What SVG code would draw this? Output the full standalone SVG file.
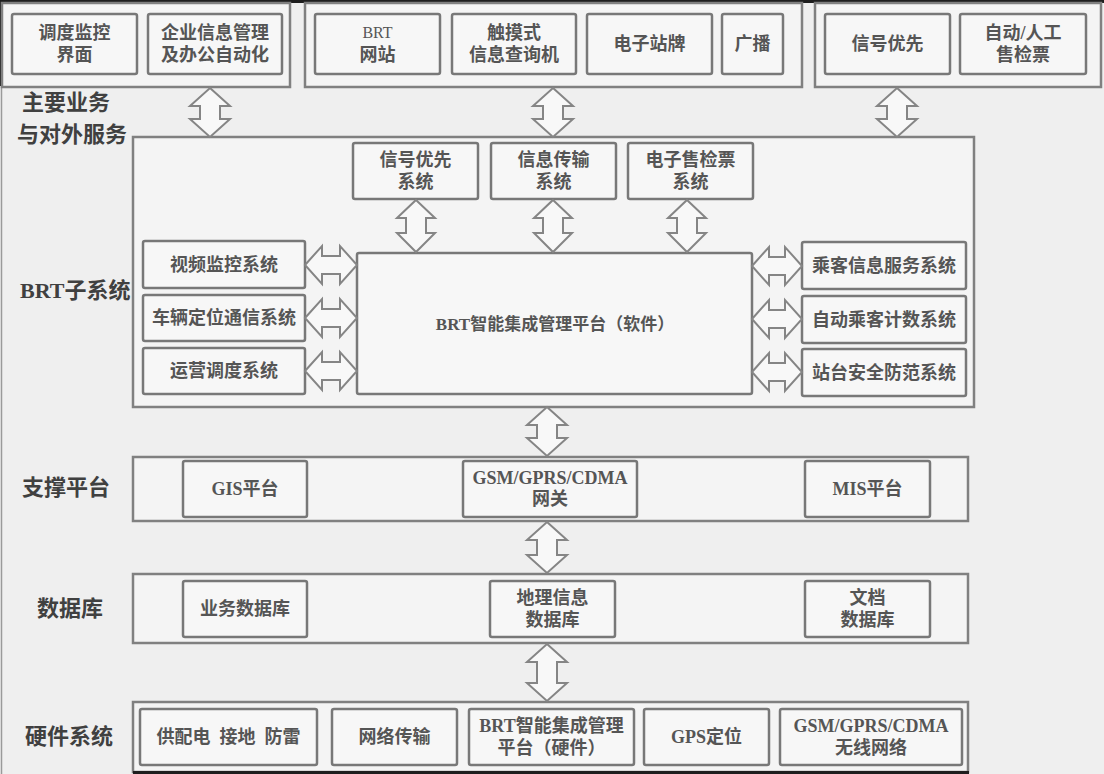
<svg xmlns="http://www.w3.org/2000/svg" width="1104" height="774" viewBox="0 0 1104 774">
<style>
.bg{fill:#efefef}
.panel{fill:#f4f4f4;stroke:#808080;stroke-width:2.5}
.box{fill:#f7f7f7;stroke:#787878;stroke-width:2.5}
.arr{fill:#f8f8f8;stroke:#858585;stroke-width:2;stroke-linejoin:miter}
.t{font-family:"Liberation Serif","Noto Sans CJK SC",serif;font-weight:700;font-size:18px;fill:#555555;text-anchor:middle;dominant-baseline:central}
.s{font-size:17px}
.lt{font-family:"Liberation Serif","Noto Sans CJK SC",serif;font-weight:400;font-size:16px;fill:#555555;text-anchor:middle;dominant-baseline:central}
.lbl{font-family:"Liberation Serif","Noto Sans CJK SC",serif;font-weight:700;font-size:22px;fill:#404040;dominant-baseline:central}
.edge{fill:#1e1e1e}
</style>
<rect class="bg" x="0" y="0" width="1104" height="774"/>
<rect class="edge" x="0" y="0" width="1104" height="3"/>
<rect class="edge" x="0" y="0" width="2" height="86"/>
<line x1="1.5" y1="86" x2="1.5" y2="774" stroke="#9a9a9a" stroke-width="1.5"/>

<!-- Row labels -->
<g id="labels">
<text class="lbl" x="22" y="102">主要业务</text>
<text class="lbl" x="17" y="134">与对外服务</text>
<text class="lbl" x="20" y="290">BRT子系统</text>
<text class="lbl" x="22" y="487">支撑平台</text>
<text class="lbl" x="37" y="608">数据库</text>
<text class="lbl" x="25" y="736">硬件系统</text>
</g>

<!-- Top panels -->
<g id="panel-a">
<rect class="panel" x="2" y="3" width="288" height="84"/>
<g id="n-ddjk"><rect class="box" x="12" y="14" width="125" height="60" rx="2"/><text class="t" x="74.5" y="33">调度监控</text><text class="t" x="74.5" y="55">界面</text></g>
<g id="n-qyxx"><rect class="box" x="148" y="14" width="134" height="60" rx="2"/><text class="t" x="215" y="33">企业信息管理</text><text class="t" x="215" y="55">及办公自动化</text></g>
</g>
<g id="panel-b">
<rect class="panel" x="305" y="3" width="497" height="84"/>
<g id="n-brtweb"><rect class="box" x="315" y="14" width="125" height="60" rx="2"/><text class="lt" x="377.5" y="32">BRT</text><text class="t" x="377.5" y="55">网站</text></g>
<g id="n-touch"><rect class="box" x="452" y="14" width="124" height="60" rx="2"/><text class="t" x="514" y="33">触摸式</text><text class="t" x="514" y="55">信息查询机</text></g>
<g id="n-stop"><rect class="box" x="587" y="14" width="125" height="60" rx="2"/><text class="t" x="649.5" y="44">电子站牌</text></g>
<g id="n-bc"><rect class="box" x="722" y="14" width="61" height="60" rx="2"/><text class="t" x="752.5" y="44">广播</text></g>
</g>
<g id="panel-c">
<rect class="panel" x="815" y="3" width="286" height="84"/>
<g id="n-sig"><rect class="box" x="825" y="14" width="125" height="60" rx="2"/><text class="t" x="887.5" y="44">信号优先</text></g>
<g id="n-ticket"><rect class="box" x="960" y="14" width="126" height="60" rx="2"/><text class="t" x="1023" y="33">自动/人工</text><text class="t" x="1023" y="55">售检票</text></g>
</g>

<!-- BRT subsystem -->
<g id="brt-sub">
<rect class="panel" x="133" y="137" width="841" height="270"/>
<g id="n-sigsys"><rect class="box" x="353" y="143" width="125" height="56" rx="2"/><text class="t" x="415.5" y="160">信号优先</text><text class="t" x="415.5" y="182">系统</text></g>
<g id="n-infotx"><rect class="box" x="491" y="143" width="125" height="56" rx="2"/><text class="t" x="553.5" y="160">信息传输</text><text class="t" x="553.5" y="182">系统</text></g>
<g id="n-eticket"><rect class="box" x="628" y="143" width="125" height="56" rx="2"/><text class="t" x="690.5" y="160">电子售检票</text><text class="t" x="690.5" y="182">系统</text></g>
<g id="n-platform"><rect class="box" x="357" y="253" width="395" height="141" rx="2"/><text class="t s" x="555" y="324">BRT智能集成管理平台（软件）</text></g>
<g id="n-video"><rect class="box" x="143" y="241" width="162" height="47" rx="2"/><text class="t" x="224" y="265">视频监控系统</text></g>
<g id="n-vehloc"><rect class="box" x="143" y="295" width="162" height="46" rx="2"/><text class="t" x="224" y="318">车辆定位通信系统</text></g>
<g id="n-dispatch"><rect class="box" x="143" y="348" width="162" height="46" rx="2"/><text class="t" x="224" y="371">运营调度系统</text></g>
<g id="n-pis"><rect class="box" x="802" y="242" width="164" height="47" rx="2"/><text class="t" x="884" y="266">乘客信息服务系统</text></g>
<g id="n-apc"><rect class="box" x="802" y="296" width="164" height="47" rx="2"/><text class="t" x="884" y="320">自动乘客计数系统</text></g>
<g id="n-sec"><rect class="box" x="802" y="349" width="164" height="47" rx="2"/><text class="t" x="884" y="373">站台安全防范系统</text></g>
</g>

<!-- Support platform -->
<g id="support">
<rect class="panel" x="133" y="457" width="835" height="64"/>
<g id="n-gis"><rect class="box" x="183" y="461" width="124" height="56" rx="2"/><text class="t" x="245" y="489">GIS平台</text></g>
<g id="n-gw"><rect class="box" x="463" y="461" width="174" height="56" rx="2"/><text class="t" x="550" y="478">GSM/GPRS/CDMA</text><text class="t" x="550" y="499">网关</text></g>
<g id="n-mis"><rect class="box" x="805" y="461" width="125" height="56" rx="2"/><text class="t" x="867.5" y="489">MIS平台</text></g>
</g>

<!-- Database -->
<g id="database">
<rect class="panel" x="133" y="574" width="835" height="69"/>
<g id="n-bizdb"><rect class="box" x="183" y="581" width="124" height="56" rx="2"/><text class="t" x="245" y="609">业务数据库</text></g>
<g id="n-geodb"><rect class="box" x="490" y="581" width="125" height="56" rx="2"/><text class="t" x="552.5" y="598">地理信息</text><text class="t" x="552.5" y="620">数据库</text></g>
<g id="n-docdb"><rect class="box" x="805" y="581" width="125" height="56" rx="2"/><text class="t" x="867.5" y="598">文档</text><text class="t" x="867.5" y="620">数据库</text></g>
</g>

<!-- Hardware -->
<g id="hardware">
<rect class="panel" x="133" y="702" width="835" height="70"/>
<g id="n-power"><rect class="box" x="140" y="709" width="177" height="56" rx="2"/><text class="t" x="228.5" y="737" xml:space="preserve">供配电  接地  防雷</text></g>
<g id="n-net"><rect class="box" x="332" y="709" width="125" height="56" rx="2"/><text class="t" x="394.5" y="737">网络传输</text></g>
<g id="n-hwplat"><rect class="box" x="469" y="709" width="165" height="56" rx="2"/><text class="t" x="551.5" y="726">BRT智能集成管理</text><text class="t" x="551.5" y="748">平台（硬件）</text></g>
<g id="n-gps"><rect class="box" x="644" y="709" width="125" height="56" rx="2"/><text class="t" x="706.5" y="737">GPS定位</text></g>
<g id="n-wireless"><rect class="box" x="780" y="709" width="182" height="56" rx="2"/><text class="t" x="871" y="726">GSM/GPRS/CDMA</text><text class="t" x="871" y="748">无线网络</text></g>
</g>
<rect class="edge" x="133" y="771" width="836" height="3"/>

<!-- Connectors: double arrows -->
<g id="connectors">
<polygon class="arr" points="210,88 230,106 220,106 220,119 230,119 210,137 190,119 200,119 200,106 190,106"/>
<polygon class="arr" points="553,88 573,106 563,106 563,119 573,119 553,137 533,119 543,119 543,106 533,106"/>
<polygon class="arr" points="897,88 917,106 907,106 907,119 917,119 897,137 877,119 887,119 887,106 877,106"/>

<polygon class="arr" points="416,200 435,218 426,218 426,233 435,233 416,252 397,233 406,233 406,218 397,218"/>
<polygon class="arr" points="553,200 572,218 563,218 563,233 572,233 553,252 534,233 543,233 543,218 534,218"/>
<polygon class="arr" points="687,200 706,218 697,218 697,233 706,233 687,252 668,233 677,233 677,218 668,218"/>

<polygon class="arr" points="305,265 322,246 322,256 340,256 340,246 357,265 340,284 340,274 322,274 322,284"/>
<polygon class="arr" points="305,318 322,299 322,309 340,309 340,299 357,318 340,337 340,327 322,327 322,337"/>
<polygon class="arr" points="305,371 322,352 322,362 340,362 340,352 357,371 340,390 340,380 322,380 322,390"/>

<polygon class="arr" points="752,266 769,247 769,257 785,257 785,247 802,266 785,285 785,275 769,275 769,285"/>
<polygon class="arr" points="752,319 769,300 769,310 785,310 785,300 802,319 785,338 785,328 769,328 769,338"/>
<polygon class="arr" points="752,372 769,353 769,363 785,363 785,353 802,372 785,391 785,381 769,381 769,391"/>

<polygon class="arr" points="547,407 567,425 557,425 557,438 567,438 547,456 527,438 537,438 537,425 527,425"/>
<polygon class="arr" points="547,522 567,540 557,540 557,555 567,555 547,573 527,555 537,555 537,540 527,540"/>
<polygon class="arr" points="547,644 567,662 557,662 557,683 567,683 547,701 527,683 537,683 537,662 527,662"/>
</g>
</svg>
